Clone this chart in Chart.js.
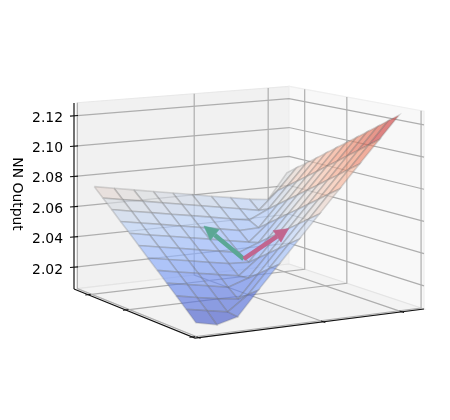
<!DOCTYPE html>
<html>
<head>
<meta charset="utf-8">
<script src="https://cdn.jsdelivr.net/npm/chart.js@4"></script>
<style>
  body { margin: 0; background: #fff; }
  canvas { display: block; }
</style>
</head>
<body>
<canvas id="myChart" width="450" height="420"></canvas>
<script>
// values
const x1Grid = [-1, -0.818, -0.636, -0.455, -0.273, -0.091, 0.091, 0.273, 0.455, 0.636, 0.818, 1];
const x2Grid = [-1, -0.8, -0.6, -0.4, -0.2, 0, 0.2, 0.4, 0.6, 0.8, 1];
const zTicks = [2.02, 2.04, 2.06, 2.08, 2.10, 2.12];
const x1Ticks = [-1.06, -0.28, 1];
const x2Ticks = [-1, 0.21, 1];

// one row per x1, one column per x2
const nnOutput = [
  [2.0764, 2.0741, 2.0718, 2.0695, 2.0673, 2.0650, 2.0626, 2.0604, 2.0581, 2.0566, 2.0734],
  [2.0707, 2.0684, 2.0662, 2.0639, 2.0616, 2.0593, 2.0570, 2.0548, 2.0524, 2.0643, 2.0784],
  [2.0651, 2.0627, 2.0605, 2.0582, 2.0560, 2.0537, 2.0513, 2.0491, 2.0551, 2.0691, 2.0831],
  [2.0593, 2.0570, 2.0548, 2.0524, 2.0502, 2.0479, 2.0455, 2.0459, 2.0599, 2.0739, 2.0879],
  [2.0537, 2.0513, 2.0491, 2.0468, 2.0446, 2.0422, 2.0399, 2.0508, 2.0648, 2.0788, 2.0929],
  [2.0480, 2.0457, 2.0435, 2.0411, 2.0389, 2.0366, 2.0416, 2.0556, 2.0696, 2.0836, 2.0977],
  [2.0422, 2.0399, 2.0377, 2.0353, 2.0331, 2.0325, 2.0465, 2.0605, 2.0745, 2.0886, 2.1026],
  [2.0366, 2.0342, 2.0320, 2.0297, 2.0275, 2.0373, 2.0513, 2.0653, 2.0793, 2.0933, 2.1074],
  [2.0309, 2.0286, 2.0264, 2.0240, 2.0282, 2.0422, 2.0562, 2.0702, 2.0843, 2.0983, 2.1123],
  [2.0253, 2.0229, 2.0207, 2.0190, 2.0330, 2.0470, 2.0610, 2.0750, 2.0890, 2.1031, 2.1171],
  [2.0195, 2.0172, 2.0149, 2.0239, 2.0379, 2.0519, 2.0659, 2.0800, 2.0940, 2.1080, 2.1220],
  [2.0138, 2.0110, 2.0142, 2.0287, 2.0427, 2.0567, 2.0707, 2.0847, 2.0988, 2.1128, 2.1268]
];

const arrowStart = [0, 0, 2.0336];
const tealTip = [0, -0.40, 2.0571];
const pinkTip = [0, 0.458, 2.0498];

const zMin = 2.0056, zMax = 2.1285;

// camera: floor homography fitted to the four box corners + height scale
function toScreen(a, b, t) {
  const w = 1 - 0.0823 * a + 0.03586 * b;
  return {
    x: (74 + 104.95 * a + 225.36 * b) / w,
    y: (289 + 21.2 * a - 15.53 * b) / w - 186 * t / Math.pow(w, 1.3)
  };
}
const aOf = x1 => 0.565 + 0.415 * x1;
const bOf = x2 => 0.4575 + 0.4425 * x2;
const tOf = z => (z - zMin) / (zMax - zMin);
const project = (x1, x2, z) => toScreen(aOf(x1), bOf(x2), tOf(z));

// coolwarm
const stops = [[59,76,192],[98,130,234],[141,176,254],[184,208,249],[221,221,221],[245,196,173],[244,154,123],[222,96,77],[180,4,38]];
function coolwarm(v, alpha) {
  const p = Math.max(0, Math.min(0.9999, v)) * (stops.length - 1);
  const k = Math.floor(p), f = p - k;
  const c = stops[k].map((s, n) => Math.round(s + (stops[k + 1][n] - s) * f));
  return 'rgba(' + c.join(',') + ',' + alpha + ')';
}

const layers = [];
function addLine(points, color, width) {
  layers.push({ data: points, borderColor: color, borderWidth: width, pointRadius: 0, fill: false, tension: 0 });
}
function addShape(points, fillColor, lineColor, width) {
  layers.push({
    data: points.concat([points[0]]), backgroundColor: fillColor, borderColor: lineColor,
    borderWidth: width, pointRadius: 0, fill: 'shape', tension: 0
  });
}

// panes
const paneLeft = 0.015;
addShape([toScreen(0, paneLeft, 0), toScreen(0, 1, 0), toScreen(0, 1, 1), toScreen(0, paneLeft, 1)], '#f1f1f1', '#e9e9e9', 1.2);
addShape([toScreen(0, 1, 0), toScreen(1, 1, 0), toScreen(1, 1, 1), toScreen(0, 1, 1)], '#f8f8f8', '#efefef', 1.2);
addShape([toScreen(0, paneLeft, 0), toScreen(1, paneLeft, 0), toScreen(1, 1, 0), toScreen(0, 1, 0)], '#f3f3f3', '#e4e4e4', 1.2);

// grid lines on the panes
const gridColor = '#aeaeae';
x1Ticks.forEach(v => {
  const a = aOf(v);
  addLine([toScreen(a, paneLeft, 0), toScreen(a, 1, 0), toScreen(a, 1, 1)], gridColor, 1.2);
});
x2Ticks.forEach(v => {
  const b = bOf(v);
  addLine([toScreen(1, b, 0), toScreen(0, b, 0), toScreen(0, b, 1)], gridColor, 1.2);
});
zTicks.forEach(v => {
  const t = tOf(v);
  addLine([toScreen(0, paneLeft, t), toScreen(0, 1, t), toScreen(1, 1, t)], gridColor, 1.2);
});

// surface cells, far ones first
const zLow = Math.min(...nnOutput.flat()), zHigh = Math.max(...nnOutput.flat());
const cells = [];
for (let i = 0; i < x1Grid.length - 1; i++) {
  for (let j = 0; j < x2Grid.length - 1; j++) cells.push([i, j]);
}
cells.sort((p, q) => (p[0] - p[1]) - (q[0] - q[1]));
cells.forEach(([i, j]) => {
  const corners = [[i, j], [i + 1, j], [i + 1, j + 1], [i, j + 1]];
  const mean = corners.reduce((s, c) => s + nnOutput[c[0]][c[1]], 0) / 4;
  addShape(corners.map(c => project(x1Grid[c[0]], x2Grid[c[1]], nnOutput[c[0]][c[1]])),
    coolwarm((mean - zLow) / (zHigh - zLow), 0.64), 'rgba(115,115,115,0.26)', 1.6);
});

// arrows
function addArrow(tip, color) {
  const p0 = project(...arrowStart), p1 = project(...tip);
  const dx = p1.x - p0.x, dy = p1.y - p0.y, len = Math.hypot(dx, dy);
  const ux = dx / len, uy = dy / len;
  const base = { x: p1.x - ux * 14, y: p1.y - uy * 14 };
  addLine([p0, base], color, 4.5);
  addShape([p1, { x: base.x - uy * 7, y: base.y + ux * 7 }, { x: base.x + uy * 7, y: base.y - ux * 7 }], color, color, 0.5);
}
addArrow(tealTip, '#5ba795');
addArrow(pinkTip, '#c1668f');

// box axes
const black = '#111';
addLine([toScreen(0, 0, 0), toScreen(0, 0, 1)], black, 1.2);
addLine([toScreen(0, 0, 0), toScreen(1, 0, 0), toScreen(1, 1, 0)], black, 1.2);
zTicks.forEach(v => {
  const p = toScreen(0, 0, tOf(v));
  addLine([{ x: p.x - 4, y: p.y + 0.3 }, { x: p.x + 4, y: p.y - 0.3 }], black, 1.1);
});
x1Ticks.forEach(v => addLine([toScreen(aOf(v), -0.012, 0), toScreen(aOf(v), 0.012, 0)], black, 1));
x2Ticks.forEach(v => addLine([toScreen(0.985, bOf(v), 0), toScreen(1.015, bOf(v), 0)], black, 1));

// first dataset is painted last
const datasets = layers.reverse();

const fontName = '"DejaVu Sans", sans-serif';
const zAxisWidth = 63;

const zTitle = {
  id: 'zTitle',
  afterDraw(chart) {
    const ctx = chart.ctx;
    ctx.save();
    ctx.translate(17, 194);
    ctx.rotate(Math.PI / 2);
    ctx.font = '13.9px ' + fontName;
    ctx.fillStyle = '#000';
    ctx.textAlign = 'center';
    ctx.textBaseline = 'middle';
    ctx.fillText('NN Output', 0, 0);
    ctx.restore();
  }
};

new Chart(document.getElementById('myChart'), {
  type: 'line',
  data: { datasets: datasets },
  plugins: [zTitle],
  options: {
    responsive: false,
    animation: false,
    events: [],
    layout: { padding: 0 },
    plugins: { legend: { display: false }, tooltip: { enabled: false } },
    scales: {
      x: { type: 'linear', display: false, min: zAxisWidth, max: 450 },
      y: { type: 'linear', display: false, reverse: true, min: 0, max: 420 },
      z: {
        type: 'linear',
        axis: 'y',
        position: 'left',
        min: 1.9213,
        max: 2.1976,
        afterBuildTicks: s => { s.ticks = zTicks.map(v => ({ value: v })); },
        afterFit: s => { s.width = zAxisWidth; s.paddingTop = 0; s.paddingBottom = 0; },
        grid: { display: false, drawTicks: false },
        border: { display: false },
        ticks: {
          autoSkip: false,
          padding: 0,
          color: '#000',
          font: { family: fontName, size: 13.9 },
          callback: v => v.toFixed(2)
        }
      }
    }
  }
});
</script>
</body>
</html>
